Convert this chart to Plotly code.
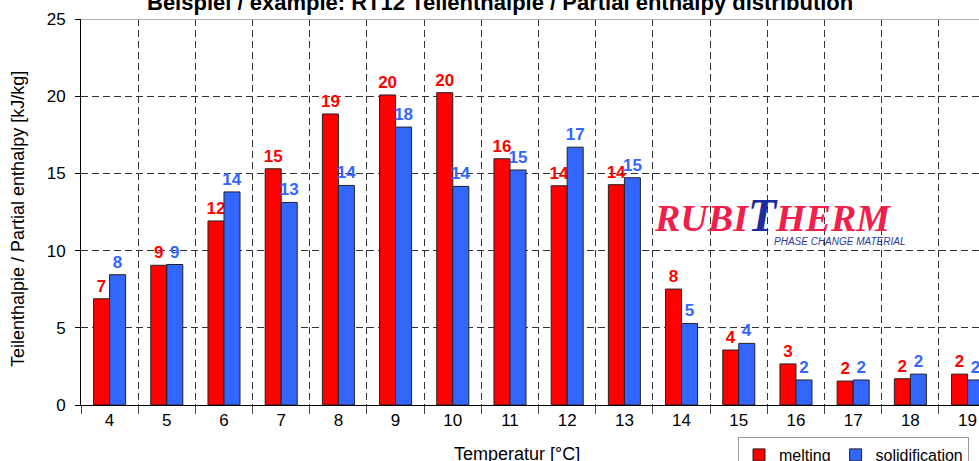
import plotly.graph_objects as go

temperatures = ["4", "5", "6", "7", "8", "9", "10", "11", "12", "13", "14", "15", "16", "17", "18", "19"]
melting = [6.88, 9.05, 11.92, 15.3, 18.85, 20.08, 20.23, 15.95, 14.2, 14.27, 7.51, 3.56, 2.66, 1.55, 1.70, 2.0]
solidification = [8.44, 9.1, 13.8, 13.12, 14.22, 18.0, 14.16, 15.22, 16.7, 14.72, 5.28, 3.99, 1.62, 1.62, 2.0, 1.62]

title_text = "Beispiel / example: RT12 Teilenthalpie / Partial enthalpy distribution"
x_title = "Temperatur [°C]"
y_title = "Teilenthalpie / Partial enthalpy [kJ/kg]"

RED = "#FF0000"
BLUE = "#3366FF"
FONT = "Liberation Sans, Arial, sans-serif"

fig = go.Figure()
fig.add_trace(go.Bar(
    x=temperatures, y=melting, name="melting",
    marker=dict(color=RED, line=dict(color="#222222", width=1)),
    texttemplate="%{y:.0f}", textposition="outside", constraintext="none", cliponaxis=False,
    textfont=dict(family=FONT, size=17, color=RED, weight="bold"),
))
fig.add_trace(go.Bar(
    x=temperatures, y=solidification, name="solidification",
    marker=dict(color=BLUE, line=dict(color="#222222", width=1)),
    texttemplate="%{y:.0f}", textposition="outside", constraintext="none", cliponaxis=False,
    textfont=dict(family=FONT, size=17, color=BLUE, weight="bold"),
))

L, T, B = 81, 19, 56
W, H = 979, 461
pw = W - L
ph = H - T - B

fig.update_layout(
    width=W, height=H,
    margin=dict(l=L, r=0, t=T, b=B, autoexpand=False),
    paper_bgcolor="white", plot_bgcolor="white",
    barmode="group", bargap=0.44, bargroupgap=0,
    font=dict(family=FONT, size=16, color="#000000"),
    showlegend=True,
    legend=dict(
        orientation="h", x=(738 - L) / pw, y=-(437 - (H - B)) / ph,
        xanchor="left", yanchor="top",
        bordercolor="#9a9a9a", borderwidth=1, bgcolor="white",
        font=dict(family=FONT, size=16, color="#000000"),
        traceorder="normal",
    ),
    xaxis=dict(
        type="category", range=[-0.5, 15.2],
        showline=True, linecolor="#000000", linewidth=1,
        ticks="outside", tickson="boundaries", ticklen=8, tickcolor="#444444",
        showgrid=True, gridcolor="#333333", griddash="7px,4px", gridwidth=1,
        tickfont=dict(family=FONT, size=17, color="#000000"),
        fixedrange=True,
    ),
    yaxis=dict(
        range=[0, 25], tickvals=[0, 5, 10, 15, 20, 25],
        showline=True, linecolor="#000000", linewidth=1,
        ticks="outside", ticklen=5, tickcolor="#000000",
        ticklabelstandoff=6,
        showgrid=True, gridcolor="#333333", griddash="7px,4px", gridwidth=1,
        zeroline=False,
        tickfont=dict(family=FONT, size=17, color="#000000"),
        fixedrange=True,
    ),
)

# top border of plot area (solid light gray at 25)
fig.add_shape(type="line", xref="paper", yref="y", x0=0, x1=1, y0=25, y1=25,
              line=dict(color="#b4b4b4", width=2), layer="above")

# title (partially cut off at the top)
fig.add_annotation(text="<b>" + title_text + "</b>", xref="paper", yref="paper",
                   x=(500 - L) / pw, y=1, xanchor="center", yanchor="bottom", yshift=2,
                   showarrow=False, font=dict(family=FONT, size=22, color="#000000"))

# axis titles
fig.add_annotation(text=x_title, xref="paper", yref="paper",
                   x=(517 - L) / pw, y=0, xanchor="center", yanchor="top", yshift=-(442 - (H - B)),
                   showarrow=False, font=dict(family=FONT, size=18, color="#000000"))
fig.add_annotation(text=y_title, xref="paper", yref="paper",
                   x=0, xshift=-(L - 18), y=((H - B) - 219) / ph, xanchor="center", yanchor="middle",
                   textangle=-90, showarrow=False, font=dict(family=FONT, size=18, color="#000000"))

# Rubitherm logo as text
fig.add_annotation(
    text="RUBI<span style='color:#1b2d9a;font-size:46px'>T</span>HERM",
    xref="paper", yref="paper", x=(652 - L) / pw, y=((H - B) - 215) / ph,
    xanchor="left", yanchor="middle", showarrow=False,
    font=dict(family="Liberation Serif, serif", size=38, color="#F0204A", style="italic", weight="bold"),
)
fig.add_annotation(
    text="PHASE CHANGE MATERIAL",
    xref="paper", yref="paper", x=(772 - L) / pw, y=((H - B) - 241) / ph,
    xanchor="left", yanchor="middle", showarrow=False,
    font=dict(family=FONT, size=10, color="#2a3a9c", style="italic"),
)

fig.write_html("out.html", config={"displayModeBar": False},
               post_script="document.body.style.margin='0';document.body.style.overflow='hidden';")
